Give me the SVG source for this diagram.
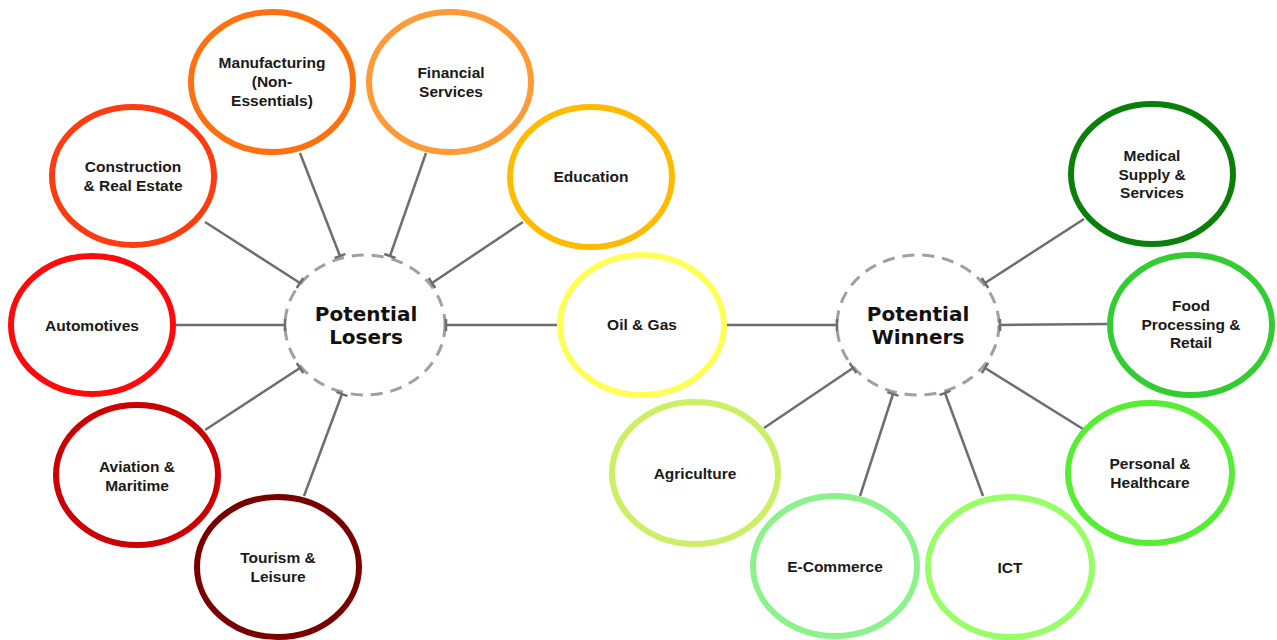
<svg xmlns="http://www.w3.org/2000/svg" width="1277" height="640" viewBox="0 0 1277 640">
  <style>
    .node { fill: #ffffff; stroke-width: 6; }
    .hub { fill: none; stroke: #a0a0a0; stroke-width: 3; stroke-dasharray: 12 8; }
    .lbl { font-family: "Liberation Sans", Arial, sans-serif; font-weight: bold; font-size: 15.5px; fill: #1a1a1a; text-anchor: middle; }
    .hubl { font-family: "DejaVu Sans", Verdana, sans-serif; font-weight: bold; font-size: 20px; fill: #111111; text-anchor: middle; }
    .conn line { stroke: #6e6e6e; stroke-width: 2.5; marker-end: url(#tick); }
  </style>
  <defs>
    <marker id="tick" viewBox="0 0 4 12" refX="2" refY="6" markerWidth="4" markerHeight="12" markerUnits="userSpaceOnUse" orient="auto">
      <line x1="2" y1="0" x2="2" y2="12" stroke="#6e6e6e" stroke-width="2.5"/>
    </marker>
  </defs>
  <rect width="1277" height="640" fill="#ffffff"/>

  <!-- hubs -->
  <g id="hub-losers">
    <ellipse class="hub" cx="365" cy="325" rx="80" ry="70"/>
    <text class="hubl" x="366" y="321">Potential</text>
    <text class="hubl" x="366" y="344">Losers</text>
  </g>
  <g id="hub-winners">
    <ellipse class="hub" cx="918" cy="325" rx="81" ry="70"/>
    <text class="hubl" x="918" y="321">Potential</text>
    <text class="hubl" x="918" y="344">Winners</text>
  </g>

  <!-- connectors: each runs from a sector circle to its hub -->
  <g id="connectors" class="conn">
    <line x1="205" y1="222" x2="300" y2="283"/>
    <line x1="300" y1="153" x2="340" y2="256"/>
    <line x1="426" y1="153" x2="390" y2="256"/>
    <line x1="523" y1="222" x2="432" y2="283"/>
    <line x1="176" y1="325" x2="285" y2="325"/>
    <line x1="205" y1="430" x2="300" y2="368"/>
    <line x1="304" y1="496" x2="342" y2="394"/>
    <line x1="557" y1="325" x2="446" y2="325"/>
    <line x1="727" y1="325" x2="837" y2="325"/>
    <line x1="764" y1="428" x2="853" y2="368"/>
    <line x1="860" y1="496" x2="893" y2="394"/>
    <line x1="983" y1="496" x2="945" y2="393"/>
    <line x1="1084" y1="219" x2="985" y2="283"/>
    <line x1="1107" y1="324" x2="1000" y2="325"/>
    <line x1="1083" y1="429" x2="985" y2="368"/>
  </g>

  <!-- losing sectors -->
  <g id="construction">
    <ellipse class="node" cx="133" cy="176" rx="81" ry="69" stroke="#ff3c10"/>
    <text class="lbl" x="133" y="172">Construction</text>
    <text class="lbl" x="133" y="191">&amp; Real Estate</text>
  </g>
  <g id="manufacturing">
    <ellipse class="node" cx="272" cy="82" rx="81" ry="70" stroke="#ff700e"/>
    <text class="lbl" x="272" y="68">Manufacturing</text>
    <text class="lbl" x="272" y="87">(Non-</text>
    <text class="lbl" x="272" y="106">Essentials)</text>
  </g>
  <g id="financial">
    <ellipse class="node" cx="450" cy="82" rx="81" ry="70" stroke="#ff9a36"/>
    <text class="lbl" x="451" y="78">Financial</text>
    <text class="lbl" x="451" y="97">Services</text>
  </g>
  <g id="education">
    <ellipse class="node" cx="591" cy="177" rx="81" ry="70" stroke="#ffbb00"/>
    <text class="lbl" x="591" y="182">Education</text>
  </g>
  <g id="automotives">
    <ellipse class="node" cx="92" cy="325" rx="81" ry="69" stroke="#ff0a0a"/>
    <text class="lbl" x="92" y="331">Automotives</text>
  </g>
  <g id="aviation">
    <ellipse class="node" cx="137" cy="475" rx="81" ry="70" stroke="#cc0000"/>
    <text class="lbl" x="137" y="472">Aviation &amp;</text>
    <text class="lbl" x="137" y="491">Maritime</text>
  </g>
  <g id="tourism">
    <ellipse class="node" cx="278" cy="567" rx="81" ry="70" stroke="#7a0000"/>
    <text class="lbl" x="278" y="563">Tourism &amp;</text>
    <text class="lbl" x="278" y="582">Leisure</text>
  </g>

  <!-- shared sector -->
  <g id="oil-gas">
    <ellipse class="node" cx="642" cy="325" rx="82" ry="70" stroke="#ffff55"/>
    <text class="lbl" x="642" y="330">Oil &amp; Gas</text>
  </g>

  <!-- winning sectors -->
  <g id="agriculture">
    <ellipse class="node" cx="695" cy="473" rx="83" ry="71" stroke="#cdef66"/>
    <text class="lbl" x="695" y="479">Agriculture</text>
  </g>
  <g id="ecommerce">
    <ellipse class="node" cx="835" cy="566" rx="82" ry="70" stroke="#8cf28c"/>
    <text class="lbl" x="835" y="572">E-Commerce</text>
  </g>
  <g id="ict">
    <ellipse class="node" cx="1010" cy="567" rx="82" ry="70" stroke="#99ff66"/>
    <text class="lbl" x="1010" y="573">ICT</text>
  </g>
  <g id="medical">
    <ellipse class="node" cx="1152" cy="174" rx="81" ry="70" stroke="#0a7f0a"/>
    <text class="lbl" x="1152" y="161">Medical</text>
    <text class="lbl" x="1152" y="180">Supply &amp;</text>
    <text class="lbl" x="1152" y="198">Services</text>
  </g>
  <g id="food">
    <ellipse class="node" cx="1191" cy="325" rx="81" ry="70" stroke="#33cc33"/>
    <text class="lbl" x="1191" y="311">Food</text>
    <text class="lbl" x="1191" y="330">Processing &amp;</text>
    <text class="lbl" x="1191" y="348">Retail</text>
  </g>
  <g id="personal">
    <ellipse class="node" cx="1150" cy="473" rx="82" ry="70" stroke="#55ee33"/>
    <text class="lbl" x="1150" y="469">Personal &amp;</text>
    <text class="lbl" x="1150" y="488">Healthcare</text>
  </g>
</svg>
